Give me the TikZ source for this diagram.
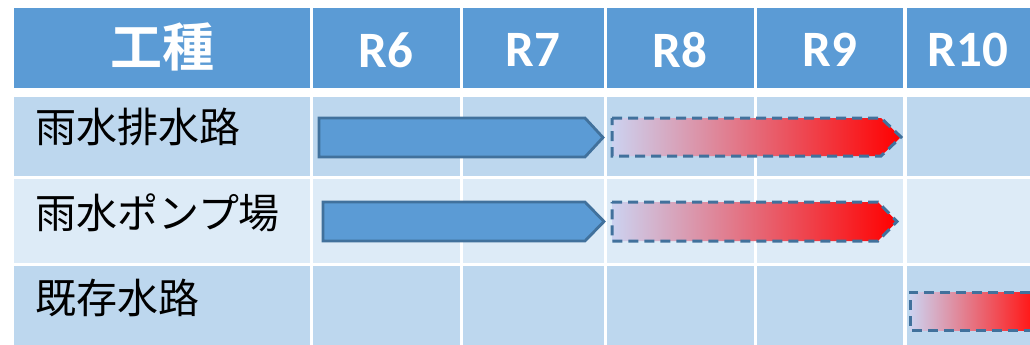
\documentclass[tikz,border=0pt]{standalone}
\usepackage{fontspec}
\newfontfamily\jpfont{Noto Sans CJK JP}[BoldFont={Noto Sans CJK JP Bold}]
\newfontfamily\latfont{Carlito}
\definecolor{hdr}{HTML}{5B9BD5}
\definecolor{rowA}{HTML}{BDD7EE}
\definecolor{rowB}{HTML}{DDEBF7}
\definecolor{edge}{HTML}{41719C}
\definecolor{barblue}{HTML}{5B9BD5}
\definecolor{gradstart}{HTML}{CCD2F0}
\tikzset{
  hdrtext/.style={text=white,inner sep=0pt,font=\latfont\bfseries\fontsize{51}{51}\selectfont},
  rowtext/.style={anchor=west,inner sep=0pt,text=black,font=\jpfont\fontsize{41}{41}\selectfont},
  planbar/.style={fill=barblue,draw=edge,line width=2.8pt,line join=miter},
  futurebar/.style={draw=edge,line width=3pt,dash pattern=on 10pt off 6pt},
}
\begin{document}
\begin{tikzpicture}[x=1pt,y=-1pt]
\useasboundingbox (0,0) rectangle (1030,345);
\begin{scope}
\clip (0,0) rectangle (1030,345);
% table cells
\foreach \xa/\xb in {14/310,313/460,463/604,607/754,757/903,907/1040}{
  \fill[hdr]  (\xa,8)   rectangle (\xb,88);
  \fill[rowA] (\xa,97)  rectangle (\xb,176);
  \fill[rowB] (\xa,179) rectangle (\xb,263);
  \fill[rowA] (\xa,266) rectangle (\xb,350);
}
% header labels
\node[hdrtext,font=\jpfont\bfseries\fontsize{52}{52}\selectfont] (kind) at (162,47) {工種};
\node[hdrtext] (r6)  at (386,50) {R6};
\node[hdrtext] (r7)  at (533,50) {R7};
\node[hdrtext] (r8)  at (680,50) {R8};
\node[hdrtext] (r9)  at (830,50) {R9};
\node[hdrtext] (r10) at (968,50) {R10};
% row labels
\node[rowtext] (w1) at (35,127) {雨水排水路};
\node[rowtext] (w2) at (35,213) {雨水ポンプ場};
\node[rowtext] (w3) at (35,298) {既存水路};
% planned periods
\draw[planbar] (319,118) -- (585,118) -- (603,137.5) -- (585,157) -- (319,157) -- cycle;
\draw[planbar] (323,202) -- (585,202) -- (604,221.5) -- (585,241) -- (323,241) -- cycle;
% later periods, shaded
\shade[left color=gradstart,right color=red] (612,118) -- (881,118) -- (901,137) -- (881,156) -- (612,156) -- cycle;
\draw[futurebar] (612,118) -- (881,118) -- (901,137) -- (881,156) -- (612,156) -- cycle;
\shade[left color=gradstart,right color=red] (612,202) -- (878,202) -- (897,221.5) -- (878,241) -- (612,241) -- cycle;
\draw[futurebar] (612,202) -- (878,202) -- (897,221.5) -- (878,241) -- (612,241) -- cycle;
\shade[left color=gradstart,right color=red!90!white] (910,292) -- (1030,292) -- (1030,330) -- (910,330) -- cycle;
\draw[futurebar] (1030,292) -- (910,292) -- (910,330) -- (1030,330);
\end{scope}
\end{tikzpicture}
\end{document}
